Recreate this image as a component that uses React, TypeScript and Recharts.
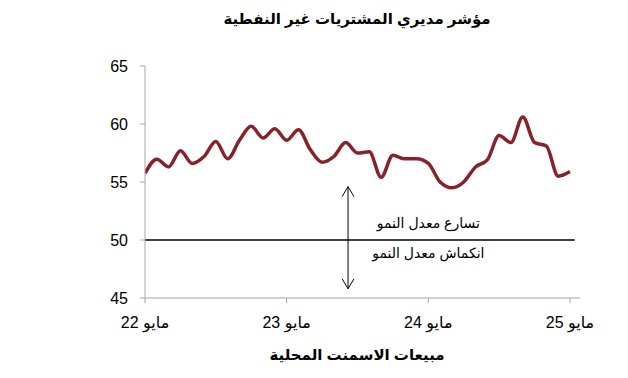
import { LineChart, Line, XAxis, YAxis, ReferenceLine, ReferenceDot } from 'recharts';

// monthly readings, May 2022 -> May 2025
const pmiValues = [
  55.75, 56.96, 56.3, 57.7, 56.6, 57.2, 58.5, 57.0, 58.6, 59.8, 58.8, 59.6,
  58.6, 59.5, 57.8, 56.7, 57.2, 58.4, 57.5, 57.6, 55.4, 57.3, 57.0, 57.0,
  56.6, 55.0, 54.5, 55.0, 56.3, 56.9, 59.0, 58.4, 60.6, 58.4, 58.1, 55.5, 55.9,
];
const xTickIndex = [0, 12, 24, 36];
const xTickLabels = ['مايو 22', 'مايو 23', 'مايو 24', 'مايو 25'];
const yTicks = [45, 50, 55, 60, 65];

const chartTitle = 'مؤشر مديري المشتريات غير النفطية';
const bottomTitle = 'مبيعات الاسمنت المحلية';
const upLabel = 'تسارع معدل النمو';
const downLabel = 'انكماش معدل النمو';

const data = pmiValues.map((v, i) => ({ i, v }));

const FONT = '"Liberation Sans", Arial, "DejaVu Sans", sans-serif';
const AXIS = '#a6a6a6';

const XTick = (props: any) => {
  const { x, y, payload } = props;
  const idx = xTickIndex.indexOf(payload.value);
  return (
    <text x={x} y={y + 23} textAnchor="middle" direction="rtl" fontSize={16} fill="#000" fontFamily={FONT}>
      {xTickLabels[idx]}
    </text>
  );
};

const DoubleArrow = (props: any) => {
  const { x1, y1, x2, y2 } = props;
  const h = 6;
  return (
    <g stroke="#000" strokeWidth={1} fill="none">
      <line x1={x1} y1={y1} x2={x2} y2={y2} />
      <polyline points={`${x1 - h},${y1 + 10} ${x1},${y1} ${x1 + h},${y1 + 10}`} />
      <polyline points={`${x2 - h},${y2 - 10} ${x2},${y2} ${x2 + h},${y2 - 10}`} />
    </g>
  );
};

export default function App() {
  return (
    <div style={{ position: 'absolute', left: 0, top: 0, width: 628, height: 378, background: '#fff', fontFamily: FONT }}>
      <div
        style={{ position: 'absolute', top: 10, left: 0, width: 714, textAlign: 'center', fontSize: 15, fontWeight: 'bold', direction: 'rtl' }}
      >
        {chartTitle}
      </div>
      <div
        style={{ position: 'absolute', top: 346, left: 0, width: 714, textAlign: 'center', fontSize: 15, fontWeight: 'bold', direction: 'rtl' }}
      >
        {bottomTitle}
      </div>
      <LineChart width={628} height={378} data={data} margin={{ top: 66, right: 48, bottom: 0, left: 0 }}>
        <XAxis
          dataKey="i"
          type="number"
          domain={[0, 36.85]}
          ticks={xTickIndex}
          allowDataOverflow
          stroke={AXIS}
          tickSize={5}
          height={80}
          tick={<XTick />}
        />
        <YAxis
          domain={[45, 65]}
          ticks={yTicks}
          width={145}
          stroke={AXIS}
          tickSize={5}
          tickMargin={12}
          tick={{ fill: '#000', fontSize: 16, fontFamily: FONT }}
        />
        <ReferenceLine
          segment={[{ x: 0, y: 50 }, { x: 36.4, y: 50 }]}
          stroke="#000"
          strokeWidth={1.3}
        />
        <ReferenceLine
          segment={[{ x: 17.2, y: 54.6 }, { x: 17.2, y: 45.8 }]}
          shape={<DoubleArrow />}
        />
        <ReferenceDot
          x={24}
          y={51.45}
          r={0}
          fill="none"
          stroke="none"
          label={{ value: upLabel, position: 'center', fontSize: 14, fill: '#000', fontFamily: FONT }}
        />
        <ReferenceDot
          x={24}
          y={48.85}
          r={0}
          fill="none"
          stroke="none"
          label={{ value: downLabel, position: 'center', fontSize: 14, fill: '#000', fontFamily: FONT }}
        />
        <Line
          dataKey="v"
          type="monotone"
          stroke="#87212a"
          strokeWidth={3.5}
          dot={false}
          isAnimationActive={false}
        />
      </LineChart>
    </div>
  );
}
